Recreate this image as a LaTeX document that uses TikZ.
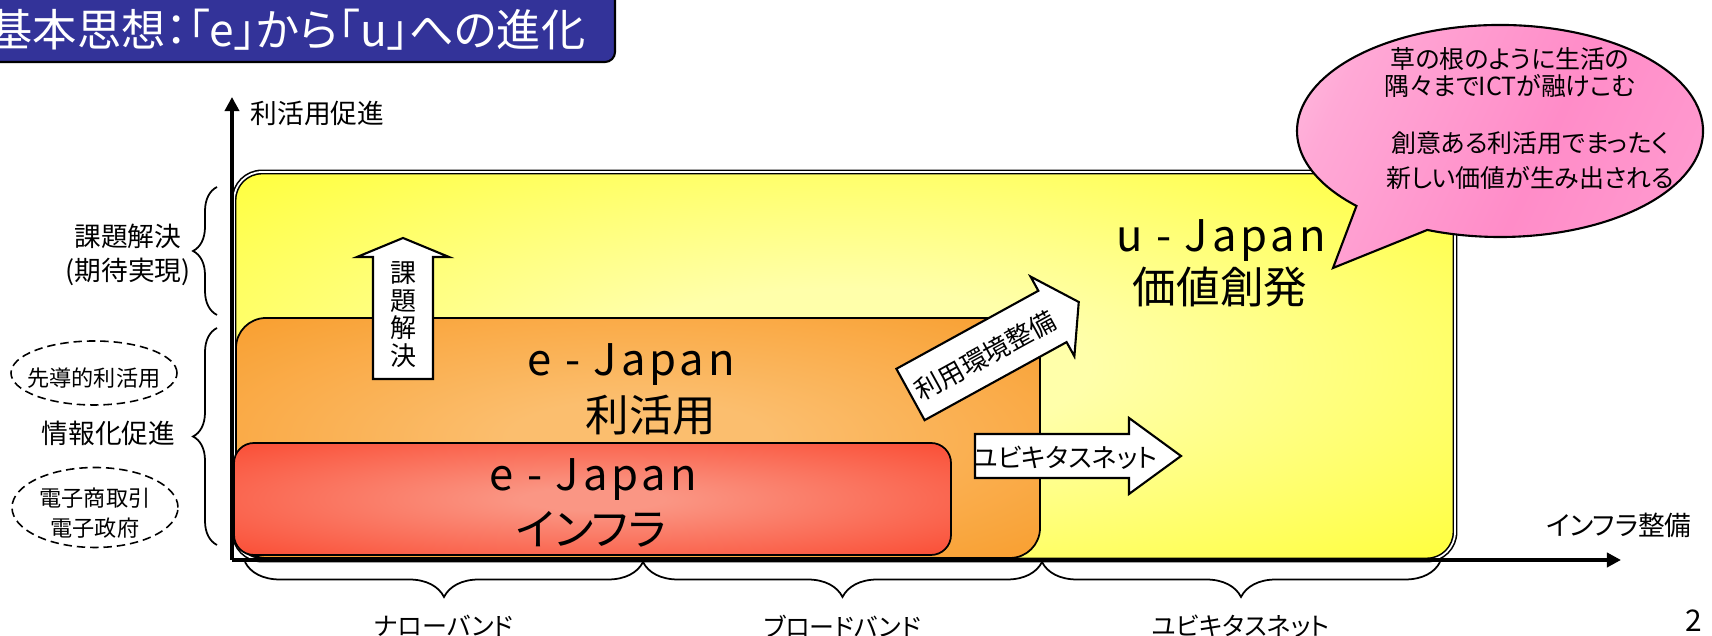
\documentclass[tikz,border=0pt]{standalone}
\usepackage{fontspec}
\setmainfont{Noto Sans CJK JP}[RawFeature=+palt]
\newfontfamily\spacedjp{Noto Sans CJK JP}[LetterSpace=9]
\usetikzlibrary{arrows.meta,decorations.pathreplacing}
\definecolor{titleblue}{RGB}{51,51,153}
\definecolor{ypale}{RGB}{255,255,170}
\definecolor{yedge}{RGB}{255,255,20}
\definecolor{opale}{RGB}{251,190,110}
\definecolor{oedge}{RGB}{248,148,26}
\definecolor{rpale}{RGB}{250,150,132}
\definecolor{redge}{RGB}{250,62,36}
\definecolor{cpink}{RGB}{255,140,200}
\pgfdeclareradialshading{uglow}{\pgfpointorigin}{color(0bp)=(ypale); color(10bp)=(ypale); color(45bp)=(yedge); color(50bp)=(yedge)}
\pgfdeclareradialshading{eglow}{\pgfpointorigin}{color(0bp)=(opale); color(8bp)=(opale); color(45bp)=(oedge); color(50bp)=(oedge)}
\pgfdeclareradialshading{iglow}{\pgfpointorigin}{color(0bp)=(rpale); color(5bp)=(rpale); color(42bp)=(redge); color(50bp)=(redge)}
\pgfdeclarehorizontalshading{pinkfade}{100bp}{color(0bp)=(cpink!20!white); color(28bp)=(cpink!75!white); color(55bp)=(cpink); color(80bp)=(cpink!85!white); color(100bp)=(cpink!45!white)}
\tikzset{
  titlebox/.style={draw=black, fill=titleblue, rounded corners=0.1cm, line width=0.6pt},
  titletext/.style={text=white, inner sep=0, font=\fontsize{12.6}{14}\selectfont},
  ubox/.style={draw=black, double=white, double distance=0.5pt, line width=0.45pt, rounded corners=0.28cm, shading=uglow},
  ebox/.style={draw=black, line width=0.5pt, rounded corners=0.3cm},
  blockarr/.style={draw=black, fill=white, line width=0.6pt, line join=miter},
  arrtxt/.style={inner sep=0, font=\fontsize{7.4}{7.9}\selectfont},
  bigtxt/.style={inner sep=0, font=\fontsize{12.4}{14}\selectfont},
  lbl/.style={inner sep=0, align=center, font=\fontsize{7.6}{9.7}\selectfont},
  ovaltxt/.style={inner sep=0, align=center, font=\fontsize{6.3}{8.5}\selectfont},
  ovalline/.style={dash pattern=on 2.4pt off 1.4pt, line width=0.45pt},
  brc/.style={decorate, decoration={brace, amplitude=0.24cm}, line width=0.5pt},
  brcb/.style={decorate, decoration={brace, amplitude=0.35cm}, line width=0.5pt},
  bandtxt/.style={inner sep=0, font=\fontsize{7.1}{8}\selectfont},
  axisline/.style={line width=1pt, -{Triangle[length=4pt, width=4pt]}},
  callout/.style={draw=black, line width=0.6pt, shading=pinkfade, shading angle=-25},
  calltxt/.style={inner sep=0, align=center, font=\fontsize{7.1}{7.7}\selectfont}
}

\begin{document}
\begin{tikzpicture}
    \useasboundingbox (0,0) rectangle (17.12,6.36);
    % title
    \draw[titlebox] (-0.2,5.74) rectangle (6.15,6.5);
    \node[titletext, anchor=east] (ttl) at (5.86,6.06) {基本思想：「e」から「u」への進化};

    % three stages
    \draw[ubox] (2.34,0.76) rectangle (14.55,4.64);
    \draw[ebox, shading=eglow] (2.36,0.78) rectangle (10.40,3.18);
    \draw[ebox, shading=iglow, rounded corners=0.2cm] (2.34,0.81) rectangle (9.51,1.93);
    \node[bigtxt] (ujp) at (12.21,3.95) {\spacedjp u - Japan};
    \node[bigtxt] (uval) at (12.20,3.49) {価値創発};
    \node[bigtxt] (ejp) at (6.31,2.71) {\spacedjp e - Japan};
    \node[bigtxt] (euse) at (6.51,2.21) {利活用};
    \node[bigtxt] (ijp) at (5.93,1.56) {\spacedjp e - Japan};
    \node[bigtxt] (infra) at (5.91,1.07) {インフラ};

    % block arrows
    \draw[blockarr] (3.73,2.57) -- (3.73,3.79) -- (3.57,3.79) -- (4.03,3.98) -- (4.49,3.79) -- (4.33,3.79) -- (4.33,2.57) -- cycle;
    \node[arrtxt, align=center] (solve) at (4.03,3.215) {課\\題\\解\\決};
    \begin{scope}[shift={(9.105,2.415)}, rotate=28.8]
        \draw[blockarr] (0,-0.293) -- (1.62,-0.293) -- (1.62,-0.455) -- (1.92,0) -- (1.62,0.455) -- (1.62,0.293) -- (0,0.293) -- cycle;
        \node[arrtxt, rotate=28.8] (env) at (0.84,-0.02) {利用環境整備};
    \end{scope}
    \draw[blockarr] (9.75,1.58) -- (11.29,1.58) -- (11.29,1.42) -- (11.81,1.80) -- (11.29,2.18) -- (11.29,2.02) -- (9.75,2.02) -- cycle;
    \node[arrtxt] (ubiq) at (10.65,1.78) {ユビキタスネット};

    % callout
    \coordinate (bc) at (15.00,5.05);
    \draw[callout] ([shift={(bc)}]249:2.03 and 1.06) arc[start angle=249, end angle=585, x radius=2.03, y radius=1.06] -- (13.33,3.68) -- cycle;
    \node[calltxt] (dream) at (15.10,5.63) {草の根のように生活の\\隅々までICTが融けこむ};
    \node[calltxt, font=\fontsize{7.1}{9.8}\selectfont] (create) at (15.30,4.755) {創意ある利活用でまったく\\新しい価値が生み出される};

    % left side
    \draw[brc] (2.17,3.21) -- (2.17,4.49);
    \draw[brc] (2.17,0.91) -- (2.17,3.08);
    \node[lbl] (goal) at (1.28,3.81) {課題解決\\(期待実現)};
    \node[lbl] (promo) at (1.085,2.03) {情報化促進};
    \node[ovaltxt] (lead) at (0.94,2.58) {先導的利活用};
    \draw[ovalline] (0.94,2.63) ellipse [x radius=0.83, y radius=0.32];
    \node[ovaltxt] (egov) at (0.95,1.23) {電子商取引\\電子政府};
    \draw[ovalline] (0.95,1.285) ellipse [x radius=0.83, y radius=0.40];

    % bottom bands
    \draw[brcb] (6.43,0.74) -- (2.45,0.74) node[bandtxt, midway, below=0.52cm] (narrow) {ナローバンド};
    \draw[brcb] (10.42,0.74) -- (6.43,0.74) node[bandtxt, midway, below=0.52cm] (broad) {ブロードバンド};
    \draw[brcb] (14.40,0.74) -- (10.42,0.74) node[bandtxt, midway, below=0.52cm] (ubnet) {ユビキタスネット};

    % axes
    \coordinate (O) at (2.32,0.76);
    \coordinate (ytop) at (2.32,5.39);
    \coordinate (xend) at (16.21,0.76);
    \draw[axisline] (O) -- (ytop);
    \draw[axisline] (O) -- (xend);
    \node[lbl, anchor=west] (yax) at (2.50,5.23) {利活用促進};
    \node[lbl] (xax) at (16.19,1.11) {インフラ整備};
    \node[inner sep=0, font=\fontsize{8.5}{10}\selectfont] (pg) at (16.94,0.15) {2};
\end{tikzpicture}
\end{document}
